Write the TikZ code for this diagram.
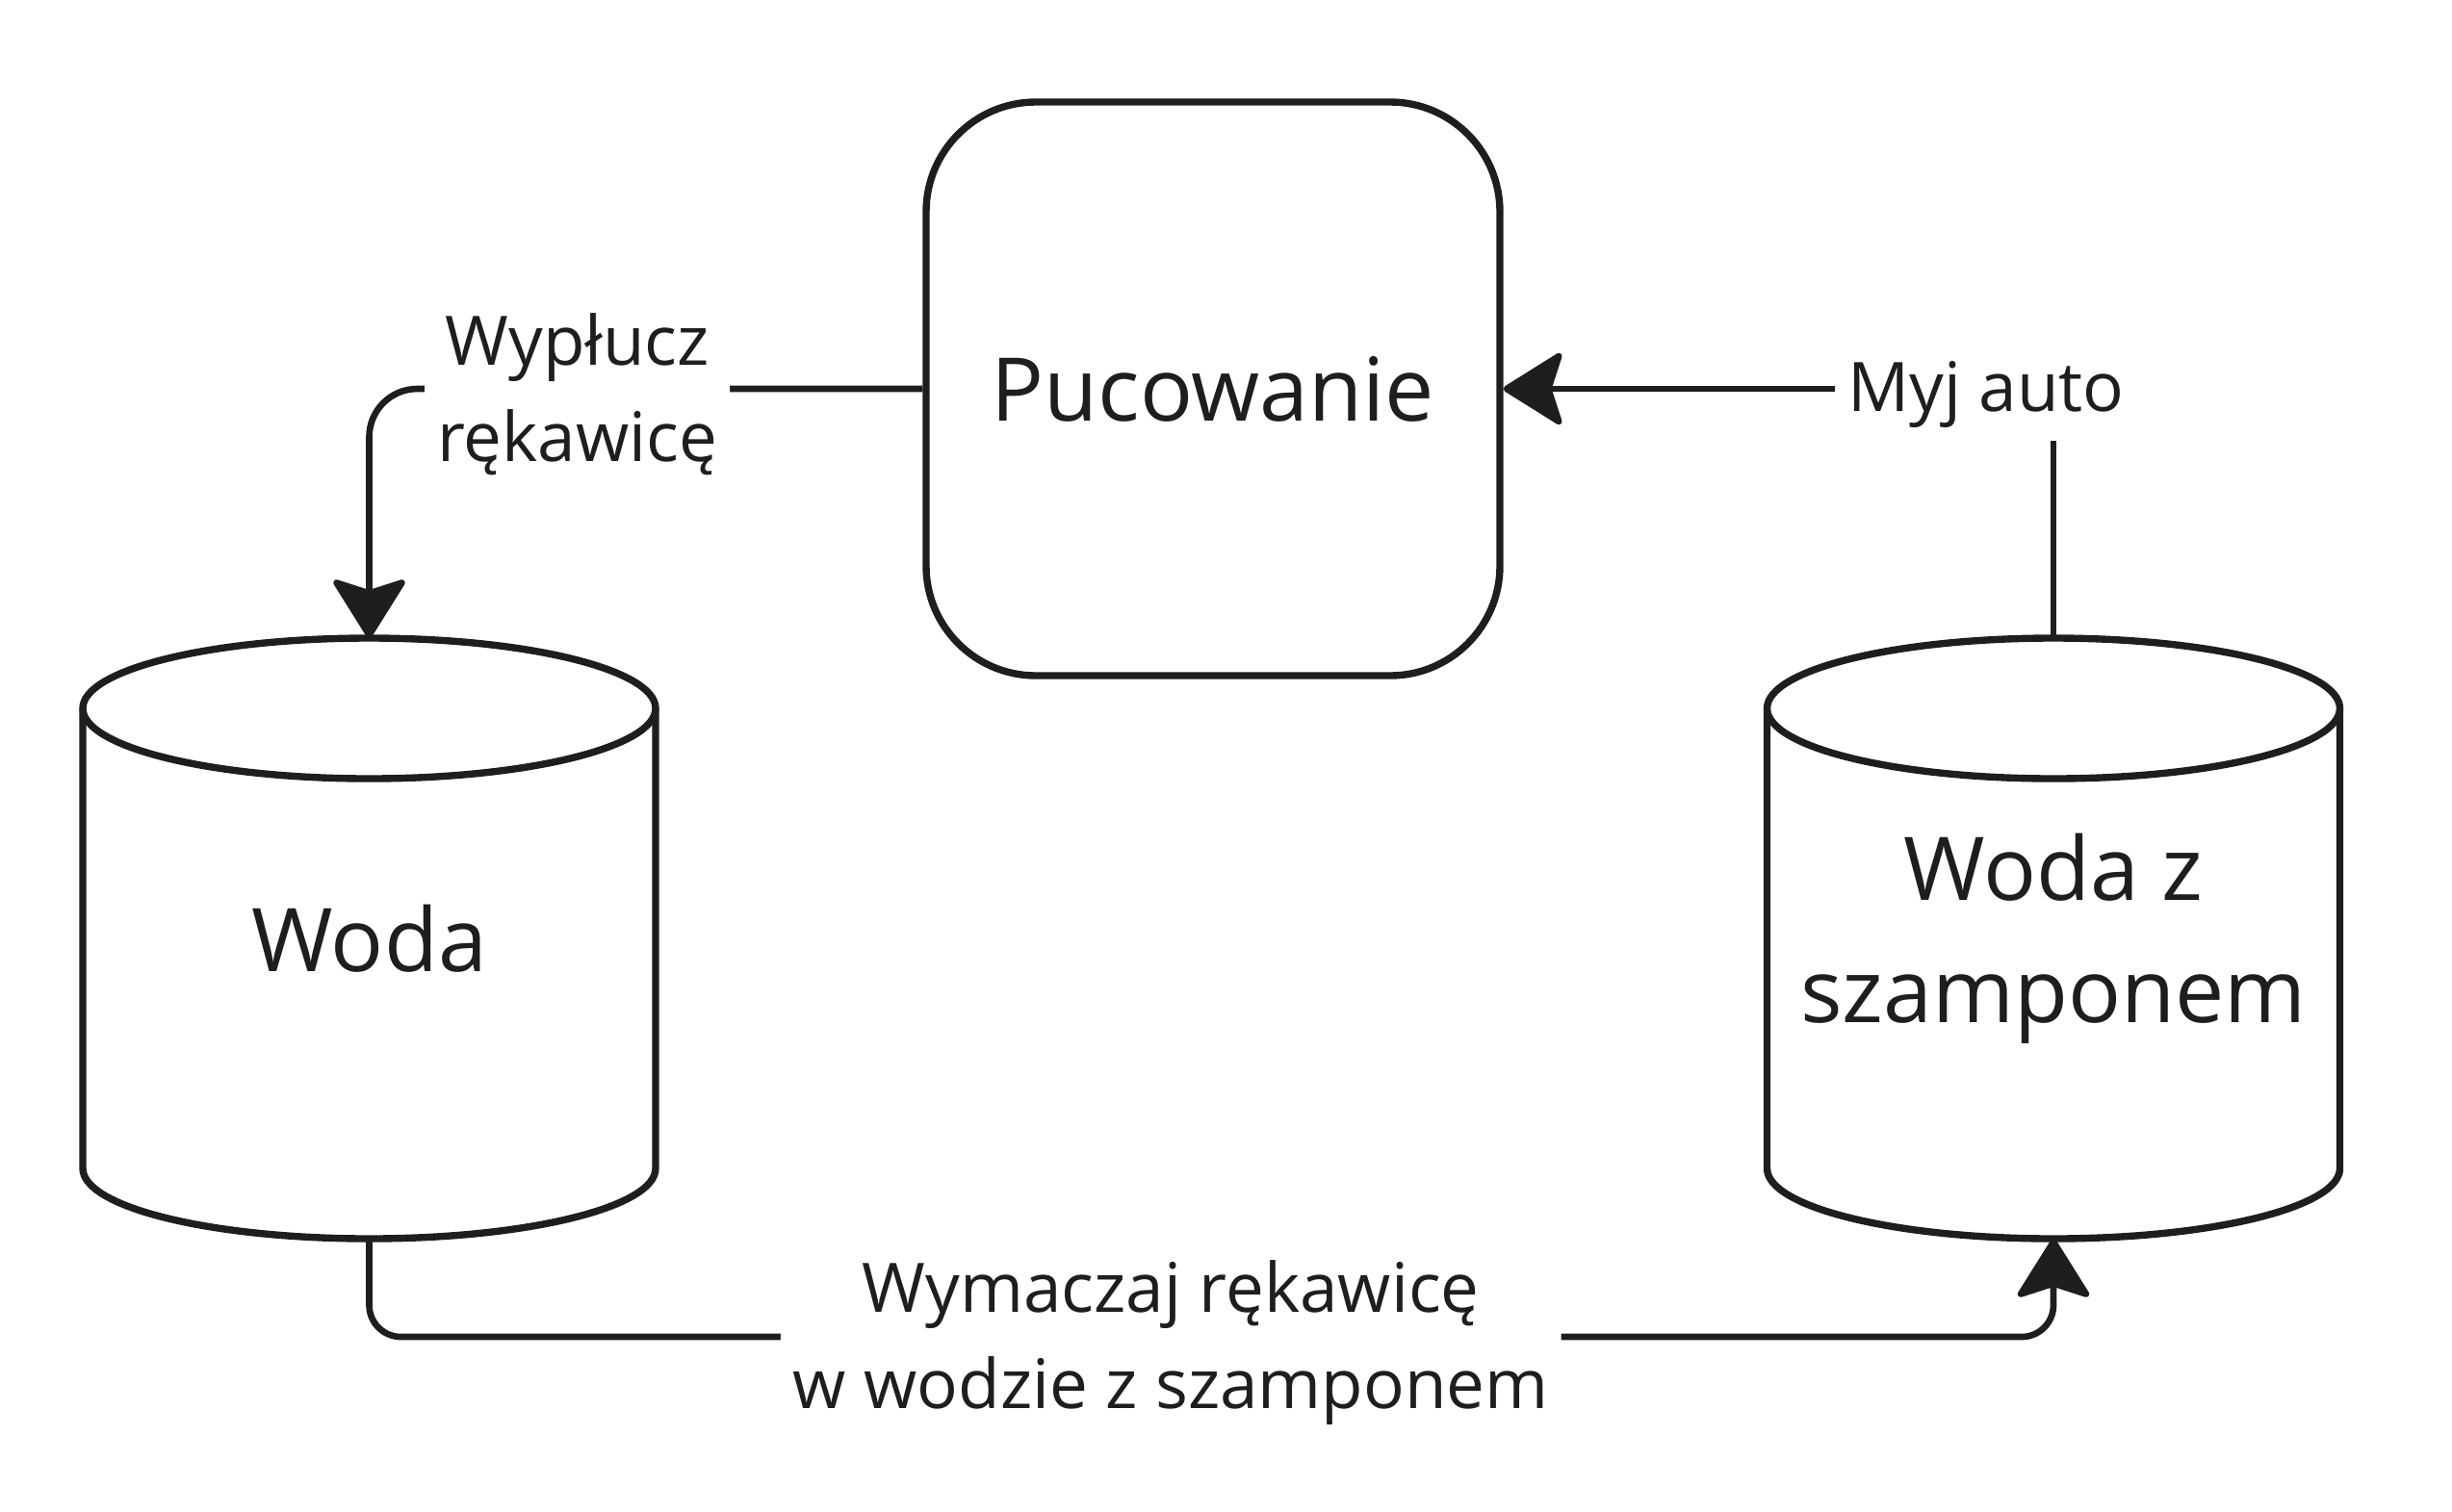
\documentclass[tikz,border=0pt]{standalone}
\usepackage{fontspec}
\setmainfont{Open Sans}
\usetikzlibrary{arrows.meta}
\definecolor{ink}{HTML}{1E1E1E}

% outline of a tank drawn round a (plain) node
\newcommand{\tankoutline}[1]{%
  \draw[tankline] ([yshift=-0.73cm]#1.north) ellipse [x radius=2.975cm, y radius=0.73cm];
  \draw[tankline] ([yshift=-0.73cm]#1.north west) -- ([yshift=0.73cm]#1.south west)
        arc [start angle=180, end angle=360, x radius=2.975cm, y radius=0.73cm]
        -- ([yshift=-0.73cm]#1.north east);
}

\begin{document}
\begin{tikzpicture}[
    every node/.style={text=ink},
    procbox/.style={draw=ink,line width=2.1pt,rounded corners=1.14cm,
                    minimum width=5.96cm,minimum height=5.96cm,
                    font=\fontsize{26}{36}\selectfont},
    tank/.style={outer sep=0pt,minimum width=5.95cm,minimum height=6.24cm,
                 align=center,font=\fontsize{26}{36}\selectfont},
    tankline/.style={draw=ink,line width=2.1pt},
    flow/.style={draw=ink,line width=1.9pt,
                 -{Stealth[length=0.66cm,width=0.82cm,inset=0.13cm,round]}},
    flowlabel/.style={fill=white,align=center,inner sep=0.13cm,yshift=-0.06cm,
                      font=\fontsize{20.2}{28.5}\selectfont}]
  \useasboundingbox (0,0) rectangle (25.47,-15.70);

% boxes
  \node[procbox] (puc) at (12.60,-4.04) {Pucowanie};
  \node[tank] (woda) at (3.835,-9.75) {Woda};
  \node[tank] (szampon) at (21.33,-9.75) {Woda z\\szamponem};
  \tankoutline{woda}
  \tankoutline{szampon}

% connectors
  \draw[flow,rounded corners=0.5cm] (puc.west) -| node[flowlabel,pos=0.312] {Wypłucz\\rękawicę} (woda.north);
  \draw[flow] (szampon.north) |- (puc.east);
  \node[flowlabel] (myj) at ([xshift=-0.7cm]szampon.north |- puc.east) {Myj auto};
  \draw[flow,rounded corners=0.33cm] (woda.south) -- ++(0,-1.02) -| node[flowlabel,pos=0.238] {Wymaczaj rękawicę\\w wodzie z szamponem} (szampon.south);
\end{tikzpicture}
\end{document}
